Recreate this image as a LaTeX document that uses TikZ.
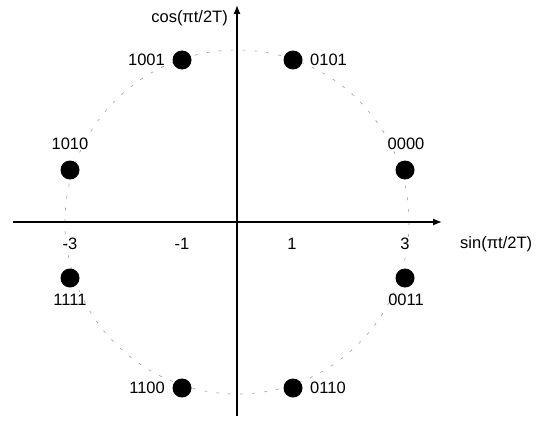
\documentclass[tikz,border=0pt]{standalone}
\usepackage{fontspec}
\setmainfont{Liberation Sans}
\usetikzlibrary{arrows.meta}
\begin{document}
\begin{tikzpicture}[x=1pt,y=-1pt,
  dot/.style={circle,fill=black,inner sep=0pt,minimum size=19pt},
  lbl/.style={font=\fontsize{16.5}{19}\selectfont,inner sep=1pt},
  axis/.style={line width=1.3pt,-{Latex[length=9pt,width=7pt]}},
  ring/.style={gray!75,line width=0.6pt,dash pattern=on 3pt off 9pt}]
\useasboundingbox (0,0) rectangle (548,444);
\coordinate (O) at (237,222);
\draw[ring] (O) circle[radius=172];
\coordinate (xs) at (13,222);
\coordinate (xe) at (442,222);
\coordinate (ys) at (237,416);
\coordinate (ye) at (237,5);
\draw[axis] (xs) -- (xe);
\draw[axis] (ys) -- (ye);
\node[dot] (p1001) at (182,60) {};
\node[dot] (p0101) at (293,60) {};
\node[dot] (p1010) at (70,170) {};
\node[dot] (p0000) at (405,170) {};
\node[dot] (p1111) at (70,278) {};
\node[dot] (p0011) at (405,278) {};
\node[dot] (p1100) at (182,388) {};
\node[dot] (p0110) at (293,388) {};
\node[lbl,anchor=east] (t1001) at (166,60) {1001};
\node[lbl,anchor=west] (t0101) at (309,60) {0101};
\node[lbl] (t1010) at (70,144) {1010};
\node[lbl] (t0000) at (406,144) {0000};
\node[lbl] (t1111) at (70,300) {1111};
\node[lbl] (t0011) at (406,300) {0011};
\node[lbl,anchor=east] (t1100) at (166,388) {1100};
\node[lbl,anchor=west] (t0110) at (309,388) {0110};
\node[lbl] (tm3) at (70,244) {-3};
\node[lbl] (tm1) at (182,244) {-1};
\node[lbl] (t1) at (292,244) {1};
\node[lbl] (t3) at (405,244) {3};
\node[lbl,anchor=west] (tsin) at (459,244) {sin(πt/2T)};
\node[lbl,anchor=east] (tcos) at (229,18) {cos(πt/2T)};
\end{tikzpicture}
\end{document}
